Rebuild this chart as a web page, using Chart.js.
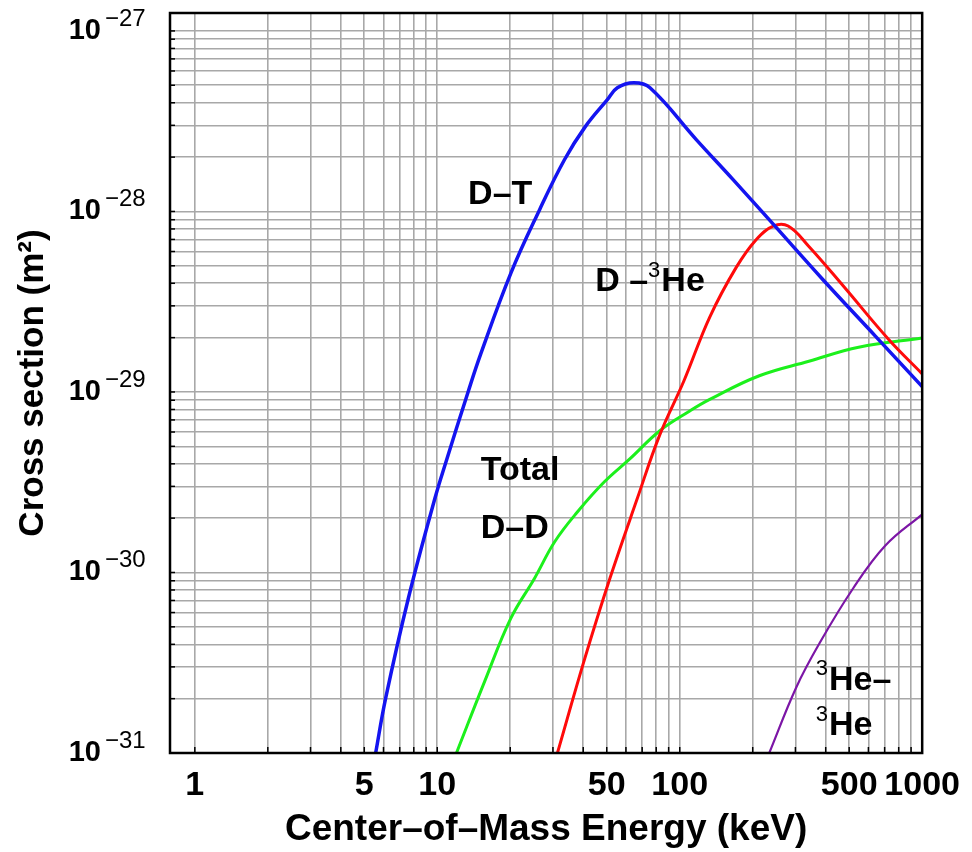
<!DOCTYPE html>
<html>
<head>
  <script src="https://cdn.jsdelivr.net/npm/chart.js"></script>
  <title>Fusion Cross Sections</title>
  <style>
    html, body { margin: 0; padding: 0; background: #fff; }
    #wrap { width: 972px; height: 852px; }
  </style>
</head>
<body>
  <div id="wrap"><canvas id="chart" width="972" height="852"></canvas></div>

  <script>
    // Energies in keV, cross sections in m^2
    const dtEnergy = [5.57, 6.12, 7.6, 9.8, 10.9, 13.4, 15.1, 20.1, 26.4, 33.5, 40.8, 50.2, 55.3, 64.7, 75.4, 117, 166, 243, 389, 641, 1000];
    const dtSigma = [1e-31, 2.0e-31, 7.2e-31, 2.6e-30, 4.16e-30, 1.0e-29, 1.62e-29, 4.54e-29, 1.02e-28, 1.94e-28, 2.95e-28, 4.15e-28, 4.84e-28, 5.16e-28, 4.84e-28, 2.5e-28, 1.5e-28, 8.5e-29, 4.2e-29, 2.04e-29, 1.07e-29];

    const dhe3Energy = [31.3, 40.4, 51.7, 66.7, 82.8, 104, 133, 171, 207, 243, 280, 341, 470, 726, 1000];
    const dhe3Sigma = [1e-31, 3.27e-31, 9.4e-31, 2.55e-30, 5.8e-30, 1.15e-29, 2.6e-29, 4.9e-29, 7.0e-29, 8.3e-29, 8.3e-29, 6.4e-29, 3.9e-29, 1.96e-29, 1.26e-29];

    const ddEnergy = [12.0, 15.7, 20.1, 25.2, 30.5, 37.9, 48.9, 62.4, 82.8, 110, 133, 213, 341, 547, 1000];
    const ddSigma = [1e-31, 2.5e-31, 5.57e-31, 9.3e-31, 1.48e-30, 2.17e-30, 3.18e-30, 4.27e-30, 6.1e-30, 7.85e-30, 9.1e-30, 1.23e-29, 1.48e-29, 1.77e-29, 1.99e-29];

    const he3he3Energy = [234, 302, 375, 517, 705, 1000];
    const he3he3Sigma = [1e-31, 2.3e-31, 4.0e-31, 8.1e-31, 1.41e-30, 2.1e-30];

    const xTickLabels = [1, 5, 10, 50, 100, 500, 1000];
    const yTickExponents = [-27, -28, -29, -30, -31];

    const FONT = '"Liberation Sans", Arial, sans-serif';

    // grid lines at every 1..9 of each decade
    const xGrid = [];
    for (let d = 0; d < 3; d++) for (let k = 1; k <= 9; k++) xGrid.push(k * Math.pow(10, d));
    xGrid.push(1000);
    const yGrid = [];
    for (let d = -31; d < -27; d++) for (let k = 1; k <= 9; k++) yGrid.push(k * Math.pow(10, d));
    yGrid.push(1e-27);

    function points(xs, ys) {
      return xs.map((x, i) => ({ x: x, y: ys[i] }));
    }

    // curve labels, anchored (left, middle) at data coordinates
    const curveLabels = [
      { e: 13.4, s: 1.24e-28, parts: [['D\u2013T']] },
      { e: 44.8, s: 4.06e-29, parts: [['D \u2013'], ['3', true], ['He']] },
      { e: 15.1, s: 3.66e-30, parts: [['Total']] },
      { e: 15.1, s: 1.75e-30, parts: [['D\u2013D']] },
      { e: 364, s: 2.53e-31, parts: [['3', true], ['He\u2013']] },
      { e: 364, s: 1.41e-31, parts: [['3', true], ['He']] }
    ];

    const decor = {
      id: 'decor',
      afterDraw(chart) {
        const { ctx, chartArea: a, scales: { x, y } } = chart;
        ctx.save();
        ctx.fillStyle = '#000';
        ctx.strokeStyle = '#000';

        // small inner tick marks
        ctx.lineWidth = 1.5;
        x.ticks.forEach(t => {
          const px = x.getPixelForValue(t.value);
          ctx.beginPath(); ctx.moveTo(px, a.bottom); ctx.lineTo(px, a.bottom - 6); ctx.stroke();
        });
        y.ticks.forEach(t => {
          const py = y.getPixelForValue(t.value);
          ctx.beginPath(); ctx.moveTo(a.left, py); ctx.lineTo(a.left + 5, py); ctx.stroke();
        });

        // frame
        ctx.lineWidth = 2.5;
        ctx.strokeRect(a.left, a.top, a.right - a.left, a.bottom - a.top);

        // y tick labels 10^n
        ctx.textBaseline = 'middle';
        yTickExponents.forEach(n => {
          const py = y.getPixelForValue(Math.pow(10, n));
          ctx.font = 'bold 29px ' + FONT;
          ctx.textAlign = 'right';
          ctx.fillText('10', 101, py);
          ctx.font = '24px ' + FONT;
          ctx.textAlign = 'left';
          ctx.fillText('\u2212' + Math.abs(n), 105, py - 12);
        });

        // curve labels
        ctx.textAlign = 'left';
        curveLabels.forEach(l => {
          let px = x.getPixelForValue(l.e);
          const py = y.getPixelForValue(l.s);
          l.parts.forEach(([txt, sup]) => {
            ctx.font = sup ? '22px ' + FONT : 'bold 34px ' + FONT;
            ctx.fillText(txt, px, sup ? py - 11 : py);
            px += ctx.measureText(txt).width + (sup ? 1 : 0);
          });
        });
        ctx.restore();
      }
    };

    const lineStyle = { pointRadius: 0, fill: false, tension: 0.4 };

    new Chart(document.getElementById('chart'), {
      type: 'line',
      data: {
        datasets: [
          Object.assign({ label: 'D-T', data: points(dtEnergy, dtSigma), borderColor: '#1414f0', borderWidth: 3.5 }, lineStyle),
          Object.assign({ label: 'D-3He', data: points(dhe3Energy, dhe3Sigma), borderColor: '#ff0a0a', borderWidth: 3 }, lineStyle),
          Object.assign({ label: 'Total D-D', data: points(ddEnergy, ddSigma), borderColor: '#1cf01c', borderWidth: 3 }, lineStyle),
          Object.assign({ label: '3He-3He', data: points(he3he3Energy, he3he3Sigma), borderColor: '#7c16a6', borderWidth: 2.2 }, lineStyle)
        ]
      },
      options: {
        responsive: false,
        animation: false,
        layout: { padding: { top: 13, right: 47, bottom: 0, left: 0 } },
        plugins: { legend: { display: false }, tooltip: { enabled: false } },
        scales: {
          x: {
            type: 'logarithmic',
            min: 0.79,
            max: 1000,
            afterBuildTicks: s => { s.ticks = xGrid.map(v => ({ value: v })); },
            afterFit: s => { s.height = 99; },
            grid: { color: '#a8a8a8', lineWidth: 1.6, drawTicks: false },
            border: { display: false },
            ticks: {
              autoSkip: false,
              maxRotation: 0,
              padding: 12,
              color: '#000',
              font: { family: FONT, size: 34, weight: 'bold' },
              callback: v => xTickLabels.includes(v) ? String(v) : ''
            },
            title: {
              display: true,
              text: 'Center\u2013of\u2013Mass Energy (keV)',
              color: '#000',
              font: { family: FONT, size: 37, weight: 'bold' },
              padding: { top: 0, bottom: 0 }
            }
          },
          y: {
            type: 'logarithmic',
            min: 1e-31,
            max: 1.257e-27,
            afterBuildTicks: s => { s.ticks = yGrid.map(v => ({ value: v })); },
            afterFit: s => { s.width = 170; },
            grid: { color: '#a8a8a8', lineWidth: 1.6, drawTicks: false },
            border: { display: false },
            ticks: { display: false },
            title: {
              display: true,
              text: 'Cross section (m\u00b2)',
              color: '#000',
              font: { family: FONT, size: 35, weight: 'bold' },
              padding: { top: 12, bottom: 0 }
            }
          }
        }
      },
      plugins: [decor]
    });
  </script>
</body>
</html>
